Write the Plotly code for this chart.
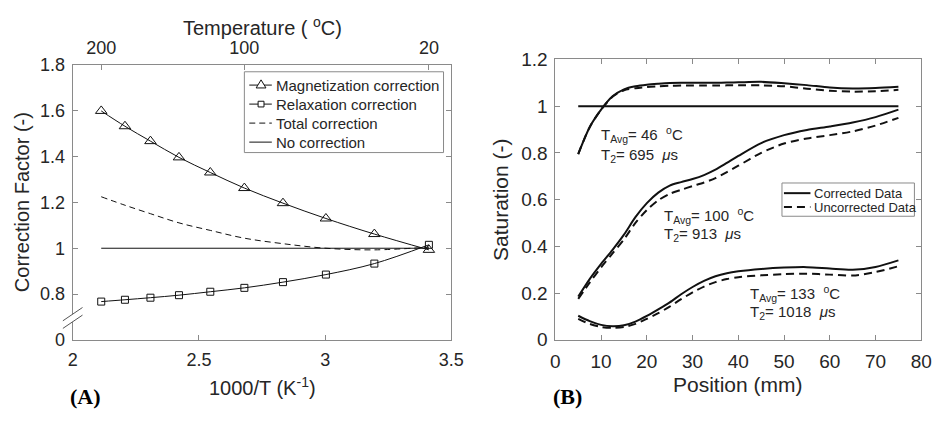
import plotly.graph_objects as go

W, H = 949, 424

# ---------------- Panel A data ----------------
inv_T = [2.113, 2.207, 2.308, 2.421, 2.545, 2.680, 2.833, 3.003, 3.195, 3.411]
mag_corr = [1.600, 1.533, 1.468, 1.397, 1.331, 1.263, 1.197, 1.130, 1.062, 0.993]
relax_corr = [0.767, 0.775, 0.784, 0.795, 0.810, 0.827, 0.852, 0.885, 0.933, 1.015]
total_corr = [1.225, 1.188, 1.151, 1.111, 1.078, 1.044, 1.020, 1.000, 0.993, 1.005]
no_corr_x = [2.113, 3.411]
no_corr_y = [1.0, 1.0]
a_legend = ["Magnetization correction", "Relaxation correction", "Total correction", "No correction"]

a_xticks = [2, 2.5, 3, 3.5]
a_xticktext = ["2", "2.5", "3", "3.5"]
a_yticks = [0.6, 0.8, 1.0, 1.2, 1.4, 1.6, 1.8]
a_yticktext = ["0", "0.8", "1", "1.2", "1.4", "1.6", "1.8"]
temp_ticks_C = [200, 100, 20]

# ---------------- Panel B data ----------------
pos = [5, 7.5, 10, 12.5, 15, 17.5, 20, 22.5, 25, 27.5, 30, 32.5, 35, 37.5, 40, 45, 50, 55, 60, 65, 70, 75]
top_corr = [0.795, 0.910, 0.985, 1.042, 1.072, 1.085, 1.092, 1.096, 1.099, 1.100, 1.100, 1.100, 1.100, 1.101, 1.102, 1.104, 1.098, 1.090, 1.080, 1.076, 1.078, 1.083]
top_unc = [0.795, 0.910, 0.985, 1.040, 1.068, 1.077, 1.082, 1.085, 1.087, 1.088, 1.088, 1.088, 1.088, 1.089, 1.089, 1.089, 1.085, 1.075, 1.066, 1.062, 1.064, 1.070]
mid_corr = [0.185, 0.260, 0.325, 0.385, 0.450, 0.525, 0.585, 0.630, 0.660, 0.675, 0.688, 0.705, 0.728, 0.757, 0.787, 0.842, 0.876, 0.898, 0.913, 0.930, 0.953, 0.985]
mid_unc = [0.175, 0.245, 0.310, 0.370, 0.430, 0.500, 0.555, 0.597, 0.625, 0.642, 0.658, 0.673, 0.692, 0.718, 0.745, 0.800, 0.840, 0.862, 0.876, 0.892, 0.917, 0.950]
low_corr = [0.103, 0.080, 0.064, 0.058, 0.062, 0.078, 0.102, 0.130, 0.160, 0.195, 0.226, 0.252, 0.272, 0.285, 0.293, 0.303, 0.309, 0.311, 0.305, 0.300, 0.312, 0.340]
low_unc = [0.090, 0.068, 0.055, 0.051, 0.055, 0.068, 0.090, 0.114, 0.142, 0.174, 0.203, 0.228, 0.247, 0.260, 0.268, 0.276, 0.281, 0.283, 0.279, 0.275, 0.290, 0.315]
ref_x = [5, 75]
ref_y = [1.0, 1.0]
b_legend = ["Corrected Data", "Uncorrected Data"]

b_xticks = [0, 10, 20, 30, 40, 50, 60, 70, 80]
b_yticks = [0, 0.2, 0.4, 0.6, 0.8, 1.0, 1.2]

# ---------------- layout geometry (pixels) ----------------
A_L, A_R, A_T, A_B = 69, 455, 58, 347
B_L, B_R, B_T, B_B = 561, 934, 52, 347


def px(x):
    return x / W


def py(y):
    return 1 - y / H


FONT = "Liberation Sans, Arial, sans-serif"
TXT = "#262626"
AX = "#8a8a8a"
LC = "#111111"
DASH_A = "6px,4px"
DASH_B = "8px,5px"

fig = go.Figure()

# Panel A traces
fig.add_trace(go.Scatter(x=inv_T, y=mag_corr, mode="lines+markers", name=a_legend[0],
                         line=dict(color=LC, width=1, shape="spline"),
                         marker=dict(symbol="triangle-up-open", size=10, color=LC, line=dict(width=1)),
                         xaxis="x", yaxis="y"))
fig.add_trace(go.Scatter(x=inv_T, y=relax_corr, mode="lines+markers", name=a_legend[1],
                         line=dict(color=LC, width=1, shape="spline"),
                         marker=dict(symbol="square-open", size=7, color=LC, line=dict(width=1)),
                         xaxis="x", yaxis="y"))
fig.add_trace(go.Scatter(x=inv_T, y=total_corr, mode="lines", name=a_legend[2],
                         line=dict(color=LC, width=1, dash=DASH_A, shape="spline"),
                         xaxis="x", yaxis="y"))
fig.add_trace(go.Scatter(x=no_corr_x, y=no_corr_y, mode="lines", name=a_legend[3],
                         line=dict(color=LC, width=1), xaxis="x", yaxis="y"))

# Panel B traces
series_b = [(top_corr, top_unc), (mid_corr, mid_unc), (low_corr, low_unc)]
for c, u in series_b:
    fig.add_trace(go.Scatter(x=pos, y=c, mode="lines", name=b_legend[0],
                             line=dict(color=LC, width=2, shape="spline", smoothing=0.8),
                             xaxis="x2", yaxis="y2"))
    fig.add_trace(go.Scatter(x=pos, y=u, mode="lines", name=b_legend[1],
                             line=dict(color=LC, width=2, dash=DASH_B, shape="spline", smoothing=0.8),
                             xaxis="x2", yaxis="y2"))
fig.add_trace(go.Scatter(x=ref_x, y=ref_y, mode="lines", line=dict(color=LC, width=2),
                         xaxis="x2", yaxis="y2"))

# invisible trace to activate top temperature axis
fig.add_trace(go.Scatter(x=[a_xticks[0]], y=[a_yticks[0]], mode="markers",
                         marker=dict(opacity=0), xaxis="x3", yaxis="y", hoverinfo="skip"))

axis_common = dict(showgrid=False, zeroline=False, linecolor=AX, linewidth=1, ticks="inside",
                   ticklen=5, tickcolor=AX, tickwidth=1)

temp_pos = [1000.0 / (t + 273.15) for t in temp_ticks_C]

fig.update_layout(
    width=W, height=H, margin=dict(l=0, r=0, t=0, b=0),
    paper_bgcolor="white", plot_bgcolor="white", showlegend=False,
    font=dict(family=FONT, color=TXT),
    xaxis=dict(domain=[px(A_L), px(A_R)], range=[2, 3.5], anchor="y", tickvals=a_xticks,
               ticktext=a_xticktext, showline=True, mirror=True, ticklabelstandoff=4,
               tickfont=dict(family=FONT, color=TXT, size=18), **axis_common),
    yaxis=dict(domain=[py(A_B), py(A_T)], range=[0.6, 1.8], anchor="x", tickvals=a_yticks,
               ticktext=a_yticktext, showline=True, mirror="ticks", ticklabelstandoff=3,
               tickfont=dict(family=FONT, color=TXT, size=18), **axis_common),
    xaxis3=dict(overlaying="x", side="top", range=[2, 3.5], anchor="y", tickvals=temp_pos,
                ticktext=[str(t) for t in temp_ticks_C], showline=False, ticklabelstandoff=7,
                tickfont=dict(family=FONT, color=TXT, size=18), **axis_common),
    xaxis2=dict(domain=[px(B_L), px(B_R)], range=[0, 80], anchor="y2", tickvals=b_xticks,
                showline=True, mirror="ticks", ticklabelstandoff=4,
                tickfont=dict(family=FONT, color=TXT, size=19), **axis_common),
    yaxis2=dict(domain=[py(B_B), py(B_T)], range=[0, 1.2], anchor="x2", tickvals=b_yticks,
                showline=True, mirror="ticks", ticklabelstandoff=3,
                tickfont=dict(family=FONT, color=TXT, size=19), **axis_common),
)

annos = [
    dict(text="Correction Factor (-)", x=px(18), y=py((A_T + A_B) / 2), textangle=-90, size=20),
    dict(text="1000/T (K<sup>-1</sup>)", x=px((A_L + A_R) / 2), y=py(396), size=20),
    dict(text="Temperature ( <sup>o</sup>C)", x=px((A_L + A_R) / 2), y=py(17), size=20),
    dict(text="Saturation (-)", x=px(505), y=py((B_T + B_B) / 2), textangle=-90, size=21),
    dict(text="Position (mm)", x=px((B_L + B_R) / 2), y=py(394), size=21),
]
for a in annos:
    fig.add_annotation(text=a["text"], x=a["x"], y=a["y"], xref="paper", yref="paper",
                       showarrow=False, textangle=a.get("textangle", 0), xanchor="center", yanchor="middle",
                       font=dict(family=FONT, size=a["size"], color=TXT))

# panel labels
for lbl, xx in [("(A)", 82), ("(B)", 573)]:
    fig.add_annotation(text="<b>%s</b>" % lbl, x=px(xx), y=py(407), xref="paper", yref="paper",
                       showarrow=False, xanchor="center", yanchor="middle",
                       font=dict(family="Liberation Serif, Times New Roman, serif", size=22, color="black"))

# in-plot annotations panel B
b_notes = [
    ("T<sub>Avg</sub>= 46  <sup>o</sup>C", 9.6, 0.88),
    ("T<sub>2</sub>= 695  <i>μ</i>s", 9.6, 0.79),
    ("T<sub>Avg</sub>= 100  <sup>o</sup>C", 23.4, 0.53),
    ("T<sub>2</sub>= 913  <i>μ</i>s", 23.4, 0.45),
    ("T<sub>Avg</sub>= 133  <sup>o</sup>C", 42.2, 0.197),
    ("T<sub>2</sub>= 1018  <i>μ</i>s", 42.2, 0.115),
]
for t, xx, yy in b_notes:
    fig.add_annotation(text=t, x=xx, y=yy, xref="x2", yref="y2", showarrow=False,
                       xanchor="left", yanchor="middle", font=dict(family=FONT, size=15, color=TXT))

# axis break marks on panel A's y axis
fig.add_shape(type="path", xref="paper", yref="paper",
              path="M %f %f L %f %f L %f %f L %f %f Z" % (px(59), py(327), px(79), py(313), px(79), py(321), px(59), py(335)),
              fillcolor="white", line=dict(width=0), layer="above")
for y0, y1 in [(327, 313), (335, 321)]:
    fig.add_shape(type="line", xref="paper", yref="paper", x0=px(59), y0=py(y0), x1=px(79), y1=py(y1),
                  line=dict(color="#555555", width=1), layer="above")

# ---------- legend A (drawn box, samples and text) ----------
LA_L, LA_R, LA_T, LA_B = 244, 447, 65, 150
la_rows = [79, 99, 119, 139]
fig.add_shape(type="rect", xref="paper", yref="paper", x0=px(LA_L), x1=px(LA_R), y0=py(LA_B), y1=py(LA_T),
              fillcolor="white", line=dict(color=AX, width=1), layer="above")
sample_dash = [None, None, DASH_A, None]
for ry, dsh in zip(la_rows, sample_dash):
    ln = dict(color=LC, width=1)
    if dsh:
        ln["dash"] = dsh
    fig.add_shape(type="line", xref="paper", yref="paper", x0=px(249), x1=px(272), y0=py(ry), y1=py(ry),
                  line=ln, layer="above")
# triangle sample marker
cx, cy = 261, la_rows[0]
fig.add_shape(type="path", xref="paper", yref="paper",
              path="M %f %f L %f %f L %f %f Z" % (px(cx - 5), py(cy + 3), px(cx + 5), py(cy + 3), px(cx), py(cy - 5.5)),
              fillcolor="white", line=dict(color=LC, width=1), layer="above")
# square sample marker
cy = la_rows[1]
fig.add_shape(type="rect", xref="paper", yref="paper", x0=px(cx - 3), x1=px(cx + 3), y0=py(cy + 3), y1=py(cy - 3),
              fillcolor="white", line=dict(color=LC, width=1), layer="above")
for ry, name in zip(la_rows, a_legend):
    fig.add_annotation(text=name, x=px(274), y=py(ry), xref="paper", yref="paper", showarrow=False,
                       xanchor="left", yanchor="middle", font=dict(family=FONT, size=15, color=TXT))

# ---------- legend B ----------
LB_L, LB_R, LB_T, LB_B = 792, 927, 182, 217
lb_rows = [192.7, 207.3]
fig.add_shape(type="rect", xref="paper", yref="paper", x0=px(LB_L), x1=px(LB_R), y0=py(LB_B), y1=py(LB_T),
              fillcolor="white", line=dict(color=AX, width=1), layer="above")
for ry, dsh in zip(lb_rows, [None, DASH_B]):
    ln = dict(color=LC, width=2)
    if dsh:
        ln["dash"] = dsh
    fig.add_shape(type="line", xref="paper", yref="paper", x0=px(794), x1=px(821), y0=py(ry), y1=py(ry),
                  line=ln, layer="above")
for ry, name in zip(lb_rows, b_legend):
    fig.add_annotation(text=name, x=px(823), y=py(ry), xref="paper", yref="paper", showarrow=False,
                       xanchor="left", yanchor="middle", font=dict(family=FONT, size=13, color=TXT))

fig.write_html("out.html")
